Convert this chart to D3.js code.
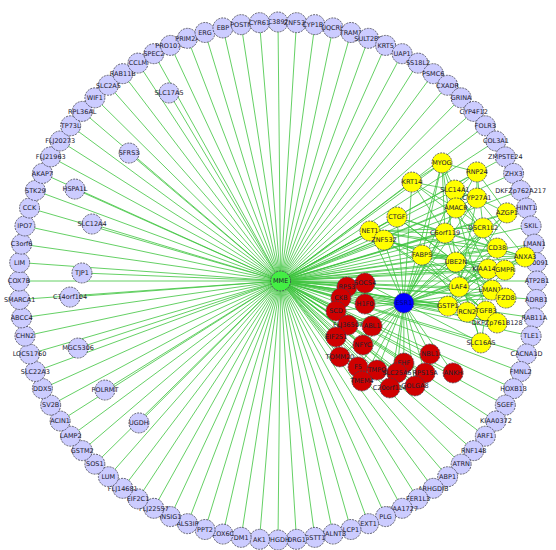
<!DOCTYPE html>
<html>
<head>
<meta charset="utf-8">
<script src="https://cdn.jsdelivr.net/npm/d3@7"></script>
<style>
body { margin: 0; background: #fff; }
text { font-family: "DejaVu Sans", sans-serif; font-size: 6.5px; fill: #20202e; }
</style>
</head>
<body>
<script>
// Nodos del anillo exterior, en sentido horario desde arriba
let anillo = ["LOC389247","ZNF536","CYP1B1","UQCRH","TRAM1","SULT2B1","KRT5","UAP1","SS18L2","PSMC6",
  "CXADR","GRINA","CYP4F12","FOLR3","COL3A1","ZMPSTE24","ZHX3","DKFZp762A217","HINT1","SKIL",
  "LMAN1","E20091","ATP2B1","ADRB1","RAB11A","TLE1","CACNA1D","FMNL2","HOXB13","SGEF",
  "KIAA0372","ARF1","RNF148","ATRN","ABP1","ARHGDIB","FER1L3","KIAA1727","PLG","EXT1",
  "LCP1","GALNT3","GSTT1","DRG1","PHGDH","AK1","DM1","COX6C","PPT2","ALS3IP",
  "INSIG1","FLJ22557","EIF2C1","FLJ14681","LUM","SOS1","GSTM2","LAMP2","ACIN1","SV2B",
  "DDX5","SLC22A3","LOC51760","CHN2","ABCC4","SMARCA1","COX7B","LIM","C3orf6","IPO7",
  "CCK","STK29","AKAP7","FLJ21963","FLJ20273","TP73L","RPL36AL","WIF1","SLC2A5","RAB11B",
  "CCLM","SPEC2","PRO1073","PRIM2A","ERG","EBP","POSTN","CYR61"]

// Nodos interiores: [nombre, x, y] en unidades del layout (radio del anillo = 100)
let hubs = [["MME", 1, 0], ["ESR1", 48.6, 8.5]]

let interiores = [["SLC17A5",-42.1,-72.6],["SFRS3",-57.5,-49.4],["HSPA1L",-78.4,-35.5],
  ["SLC12A4",-71.8,-22.0],["TJP1",-75.7,-3.1],["C14orf104",-80.3,6.2],["MGC5306",-77.2,25.9],
  ["POLRMT",-66.8,42.1],["UGDH",-53.7,54.8]]

let rojos = [["RPS3",26.6,2.3],["SOCS4",33.6,0.8],["CKB",24.3,6.6],["H1F0",33.6,8.9],["SCD",22.4,11.6],
  ["FLJ36507",27.0,17.0],["ABL1",36.3,17.4],["EIF2S1",22.4,21.6],["NFYC",32.8,24.7],["TOMM20",23.9,29.3],
  ["F5",30.9,33.2],["TMPO",38.2,34.4],["TMEM4",32.4,38.6],["EHF",48.6,31.7],["SLC25A6",45.9,35.5],
  ["RPS15A",56.8,35.5],["C20orf114",43.2,41.3],["GOLGA8",52.9,40.5],["NBL1",58.7,28.2],["ANKH",67.6,35.5]]

let amarillos = [["MYOG",63.3,-45.6],["RNP24",76.8,-42.1],["KRT14",51.7,-38.2],["SLC14A1",68.3,-35.1],
  ["CYP27A1",76.8,-32.0],["AMACR",68.7,-28.2],["AZGP1",88.4,-26.3],["CTGF",45.9,-24.7],["DSCR1L2",79.2,-20.5],
  ["C6orf119",64.5,-18.5],["NET1",35.5,-19.3],["ZNF532",40.9,-15.8],["CD38",84.6,-12.7],["FABP5",55.6,-10.0],
  ["ANXA3",95.4,-9.3],["UBE2N",68.7,-7.3],["KIAA1462",81.1,-4.6],["GMPR",87.6,-4.2],["LAF4",69.9,2.3],
  ["LMAN1L",82.6,3.5],["FZD8",88.0,6.6],["GSTP1",65.6,9.7],["RCN2",73.0,12.0],["TGFB3",80.3,11.6],
  ["DKFZp761B128",84.6,16.2],["SLC16A5",78.4,23.9]]

// Enlaces entre nodos amarillos
let enlacesAmarillos = [["MYOG","SLC14A1"],["MYOG","AMACR"],["MYOG","C6orf119"],["MYOG","UBE2N"],["MYOG","KRT14"],
  ["MYOG","RNP24"],["MYOG","FABP5"],["RNP24","CYP27A1"],["RNP24","DSCR1L2"],["RNP24","AZGP1"],["RNP24","SLC14A1"],
  ["KRT14","SLC14A1"],["KRT14","AMACR"],["KRT14","CD38"],["KRT14","C6orf119"],["SLC14A1","CYP27A1"],
  ["SLC14A1","CD38"],["SLC14A1","GMPR"],["CYP27A1","AZGP1"],["CYP27A1","ANXA3"],["CYP27A1","LAF4"],
  ["AMACR","DSCR1L2"],["AMACR","KIAA1462"],["AMACR","TGFB3"],["CTGF","C6orf119"],["CTGF","ANXA3"],
  ["CTGF","UBE2N"],["CTGF","LMAN1L"],["NET1","CD38"],["NET1","C6orf119"],["NET1","DSCR1L2"],["NET1","ANXA3"],
  ["NET1","FZD8"],["ZNF532","KIAA1462"],["ZNF532","UBE2N"],["ZNF532","GMPR"],["ZNF532","LAF4"],["ZNF532","TGFB3"],
  ["FABP5","ANXA3"],["FABP5","GMPR"],["FABP5","RCN2"],["FABP5","DKFZp761B128"],["C6orf119","ANXA3"],
  ["C6orf119","LMAN1L"],["C6orf119","SLC16A5"],["DSCR1L2","UBE2N"],["DSCR1L2","GSTP1"],["CD38","LAF4"],
  ["CD38","GSTP1"],["UBE2N","FZD8"],["UBE2N","SLC16A5"],["AZGP1","UBE2N"],["AZGP1","LAF4"],["ANXA3","LAF4"],
  ["ANXA3","GSTP1"],["KIAA1462","GSTP1"],["GMPR","RCN2"],["LAF4","DKFZp761B128"],["LMAN1L","GSTP1"],["TGFB3","SLC16A5"]]

let colores = {anillo: "#ccccff", interior: "#ccccff", rojo: "#d00000", amarillo: "#ffff00", MME: "#44ee44", ESR1: "#0000ff"}

// Escalas del layout
let cx = 278, cy = 281, R = 259
let escalaX = d3.scaleLinear().domain([-100, 100]).range([cx - R, cx + R])
let escalaY = d3.scaleLinear().domain([-100, 100]).range([cy - R, cy + R])
let escalaAngulo = d3.scaleLinear().domain([0, anillo.length]).range([-Math.PI / 2, 3 * Math.PI / 2])

// Construimos los nodos
let nodos = []
anillo.forEach((n, i) => {
  let a = escalaAngulo(i)
  nodos.push({id: n, grupo: "anillo", u: 100 * Math.cos(a), v: 100 * Math.sin(a)})
})
interiores.forEach(d => nodos.push({id: d[0], grupo: "interior", u: d[1], v: d[2]}))
rojos.forEach(d => nodos.push({id: d[0], grupo: "rojo", u: d[1], v: d[2]}))
amarillos.forEach(d => nodos.push({id: d[0], grupo: "amarillo", u: d[1], v: d[2]}))
hubs.forEach(d => nodos.push({id: d[0], grupo: d[0], u: d[1], v: d[2]}))

let porId = {}
nodos.forEach(d => { d.x = escalaX(d.u); d.y = escalaY(d.v); porId[d.id] = d })

// Construimos los enlaces
let enlaces = []
nodos.forEach(d => { if (d.id != "MME") enlaces.push({source: porId["MME"], target: d}) })
nodos.filter(d => d.grupo == "rojo" || d.grupo == "amarillo")
  .forEach(d => enlaces.push({source: porId["ESR1"], target: d}))
enlacesAmarillos.forEach(e => enlaces.push({source: porId[e[0]], target: porId[e[1]]}))

// Crear espacio svg
let svg = d3.select("body")
  .append("svg")
  .attr("width", 556)
  .attr("height", 550)

svg.append("g")
  .attr("class", "links")
  .selectAll("line")
  .data(enlaces)
  .join("line")
  .attr("x1", d => d.source.x)
  .attr("y1", d => d.source.y)
  .attr("x2", d => d.target.x)
  .attr("y2", d => d.target.y)
  .style("stroke", "#3ec43e")
  .style("stroke-width", 0.8)

let g = svg.append("g")
  .attr("class", "nodes")
  .selectAll("g")
  .data(nodos)
  .join("g")
  .attr("transform", d => "translate(" + d.x + "," + d.y + ")")

g.append("circle")
  .attr("r", 10)
  .attr("fill", d => colores[d.grupo])
  .style("stroke", "#404050")
  .style("stroke-width", 0.8)
  .style("stroke-dasharray", "2,1")

g.append("text")
  .text(d => d.id)
  .attr("text-anchor", "middle")
  .attr("dy", "0.35em")
  .style("fill", d => d.grupo == "ESR1" ? "#00007a" : "#20202e")
</script>
</body>
</html>
